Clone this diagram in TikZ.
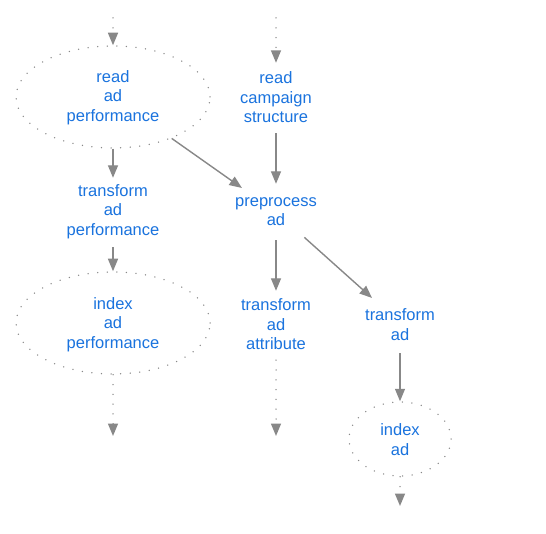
\documentclass[tikz,border=0pt]{standalone}
\usepackage{fontspec}
\setmainfont{Liberation Sans}
\usetikzlibrary{shapes.geometric,arrows.meta}
\definecolor{txtblue}{RGB}{26,115,222}
\definecolor{edgegray}{RGB}{136,136,136}
\tikzset{
  shp/.style={shape=ellipse, inner sep=0pt},
  lbl/.style={inner sep=0pt, align=center, text=txtblue,
    font=\fontsize{16.5}{19.6}\selectfont},
  dotborder/.style={draw=edgegray, line width=1.5pt, line cap=round, dash pattern=on 0pt off 9.6pt},
  flow/.style={draw=edgegray, line width=1.4pt, -{Triangle[length=12.5pt,width=10pt]}},
  dotflow/.style={flow, line cap=round, line width=1.5pt, dash pattern=on 0pt off 9.8pt},
}
\begin{document}
\begin{tikzpicture}[x=1pt,y=-1pt]
\path[use as bounding box] (0,0) rectangle (546,534);
\fill[white] (0,0) rectangle (546,534);
% node outlines (invisible ones give the edge ends)
\node[shp, dotborder, minimum width=194pt, minimum height=102pt] (A) at (113,97) {};
\node[shp, minimum width=110pt, minimum height=70pt] (B) at (276,98) {};
\node[shp, minimum width=110pt, minimum height=69pt] (C) at (113,212.5) {};
\node[shp, minimum width=130pt, minimum height=56pt] (D) at (276,212) {};
\node[shp, dotborder, minimum width=194pt, minimum height=102pt] (E) at (113,323) {};
\node[shp, minimum width=110pt, minimum height=69pt] (F) at (276,325.5) {};
\node[shp, minimum width=100pt, minimum height=60pt] (G) at (400,323) {};
\node[shp, dotborder, minimum width=102pt, minimum height=74pt] (H) at (400,439) {};
% texts
\node[lbl] (At) at (113,97.5) {read\\ad\\performance};
\node[lbl] (Bt) at (276,97.5) {read\\campaign\\structure};
\node[lbl] (Ct) at (113,211.5) {transform\\ad\\performance};
\node[lbl] (Dt) at (276,211.5) {preprocess\\ad};
\node[lbl] (Et) at (113,324.5) {index\\ad\\performance};
\node[lbl] (Ft) at (276,324.5) {transform\\ad\\attribute};
\node[lbl] (Gt) at (400,324.5) {transform\\ad};
\node[lbl] (Ht) at (400,439.5) {index\\ad};
% free ends
\coordinate (a0) at (113,18);
\coordinate (b0) at (276,18);
\coordinate (e1) at (113,436);
\coordinate (f1) at (276,436);
\coordinate (h1) at (400,506);
% edges
\draw[dotflow] (a0) -- (A);
\draw[dotflow] (b0) -- (B);
\draw[flow] (A) -- (C);
\draw[flow] (A) -- (D);
\draw[flow] (B) -- (D);
\draw[flow] (C) -- (E);
\draw[flow] (D) -- (F);
\draw[flow] (D) -- (G);
\draw[flow] (G) -- (H);
\draw[dotflow] (E) -- (e1);
\draw[dotflow] (F) -- (f1);
\draw[dotflow] (H) -- (h1);
\end{tikzpicture}
\end{document}
